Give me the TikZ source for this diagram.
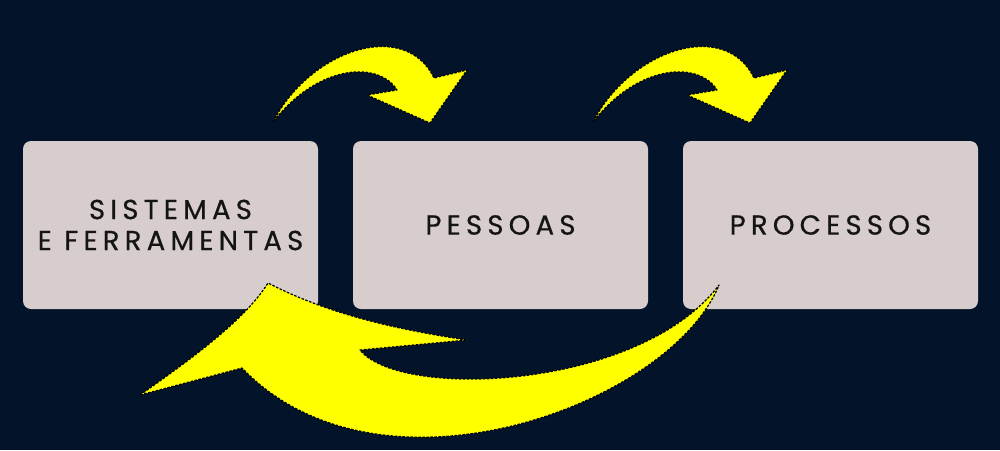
\documentclass[tikz,border=0pt]{standalone}
\usepackage{fontspec}
\setmainfont{Poppins}[LetterSpace=19,FakeBold=0.6]
\definecolor{bgnavy}{HTML}{02132A}
\definecolor{boxgray}{HTML}{D6CDCC}
\definecolor{txtdark}{HTML}{141414}
\definecolor{arrowyellow}{HTML}{FFFF00}
\begin{document}
\begin{tikzpicture}[x=1pt,y=-1pt,
  card/.style={fill=boxgray, rounded corners=8pt, minimum width=295pt, minimum height=168pt,
    inner sep=0pt, text=txtdark, align=center, font=\fontsize{27.5}{31}\selectfont},
  yarrow/.style={fill=arrowyellow, draw=black, line width=1.2pt, dash pattern=on 2.5pt off 1.5pt, line join=round}]
\fill[bgnavy] (0,0) rectangle (1000,450);
\useasboundingbox (0,0) rectangle (1000,450);

\node[card] (sis) at (170.5,225) {SISTEMAS\\E FERRAMENTAS};
\node[card] (pes) at (500.5,225) {PESSOAS};
\node[card] (pro) at (830.5,225) {PROCESSOS};

% top arrows
\foreach \dx/\nm in {0/a1,320/a2}{
\begin{scope}[xshift=\dx]
\draw[yarrow] (273,122) .. controls (310,50) and (405,18) .. (434,78)
  -- (467,70) -- (430,123) -- (367,95) -- (397,90)
  .. controls (380,62) and (320,62) .. cycle;
\end{scope}}

% bottom arrow
\draw[yarrow] (140,395) .. controls (190,360) and (245,320) .. (268,283)
  .. controls (330,315) and (400,330) .. (467,340)
  -- (360,350)
  .. controls (400,400) and (640,390) .. (719,285)
  .. controls (670,405) and (380,512) .. (242,368)
  -- cycle;
\end{tikzpicture}
\end{document}
